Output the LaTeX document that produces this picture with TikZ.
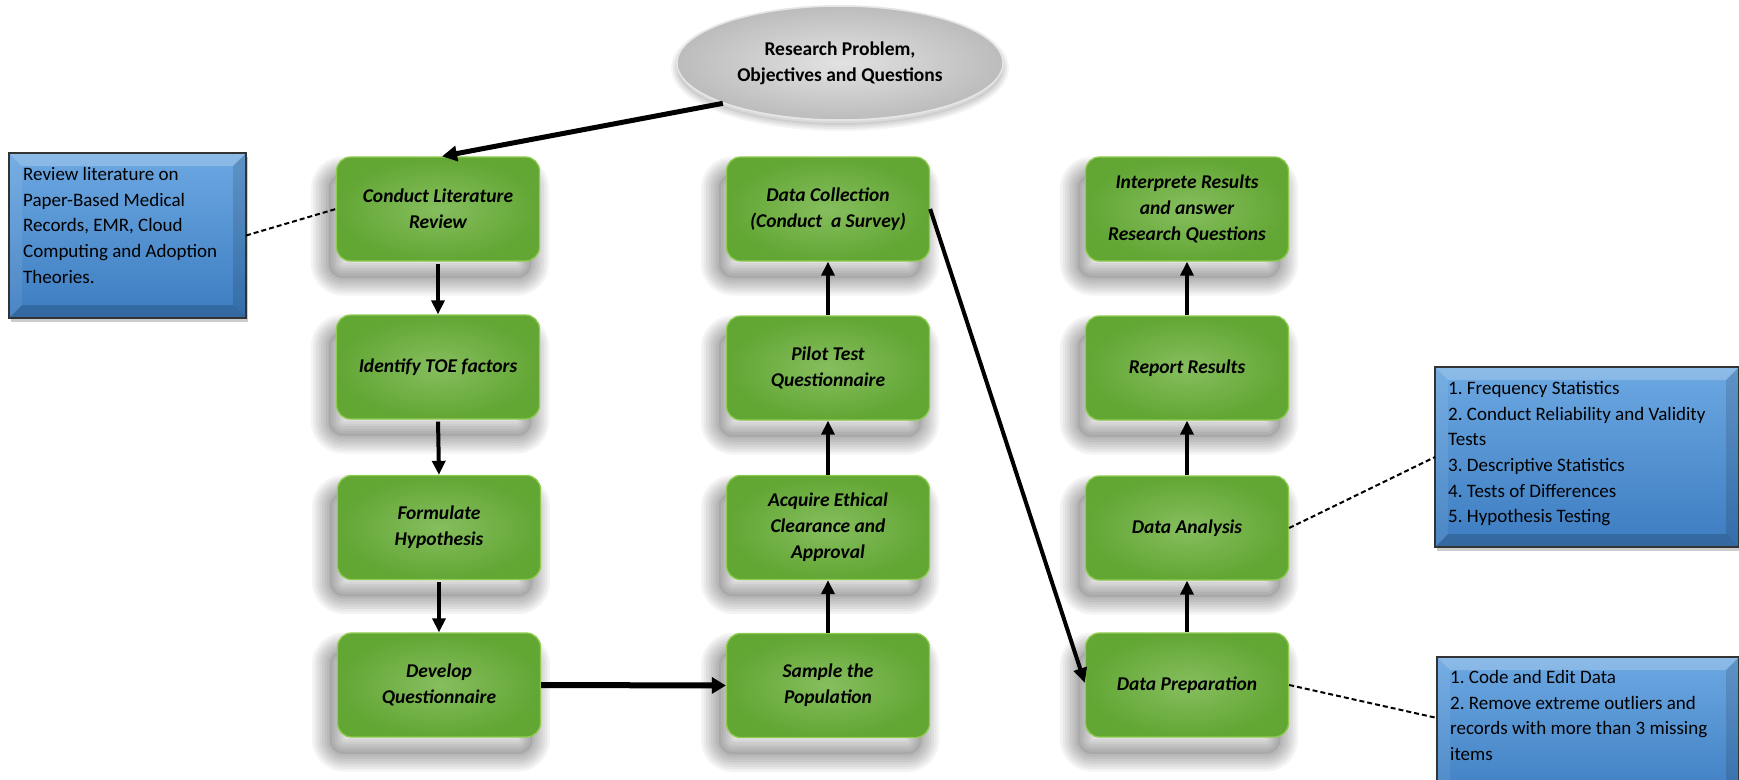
\documentclass[tikz,border=0pt]{standalone}
\usepackage{fontspec}
\setmainfont{Carlito}
\frenchspacing
\usetikzlibrary{arrows.meta,shapes.geometric,calc}
\definecolor{gC}{RGB}{134,190,94}
\definecolor{gO}{RGB}{98,166,52}
\definecolor{gE}{RGB}{142,204,78}
\definecolor{bT}{RGB}{108,168,226}
\definecolor{bB}{RGB}{60,124,192}
\definecolor{eC}{RGB}{226,226,226}
\definecolor{eO}{RGB}{188,188,188}
\newcommand\bluebevel[1]{%
 \fill[white,opacity=.22] (#1.north west) -- (#1.north east) -- ($(#1.north east)+(-13,13)$) -- ($(#1.north west)+(13,13)$) -- cycle;
 \fill[white,opacity=.08] (#1.north west) -- ($(#1.north west)+(13,13)$) -- ($(#1.south west)+(13,-13)$) -- (#1.south west) -- cycle;
 \fill[black,opacity=.12] (#1.north east) -- ($(#1.north east)+(-13,13)$) -- ($(#1.south east)+(-13,-13)$) -- (#1.south east) -- cycle;
 \fill[black,opacity=.16] (#1.south west) -- ($(#1.south west)+(13,-13)$) -- ($(#1.south east)+(-13,-13)$) -- (#1.south east) -- cycle;
 \draw[line width=1.6pt,black!80] (#1.north west) rectangle (#1.south east);
}
\begin{document}
\begin{tikzpicture}[x=1pt,y=-1pt,
  sh/.style n args={3}{preaction={draw=black, line join=round, line width=#3, opacity=.045, transform canvas={xshift=#1,yshift=#2}}},
  softshadow/.style n args={2}{
    preaction={fill=black, opacity=.08, transform canvas={xshift=#1,yshift=#2}},
    sh={#1}{#2}{5pt}, sh={#1}{#2}{10pt}, sh={#1}{#2}{15pt}, sh={#1}{#2}{20pt},
    sh={#1}{#2}{25pt}, sh={#1}{#2}{30pt}, sh={#1}{#2}{35pt}},
  gbox/.style={rectangle, rounded corners=14pt, minimum width=203pt, minimum height=104pt,
    inner sep=2pt, softshadow={-8pt}{-17pt}, inner color=gC, outer color=gO, draw=gE, line width=1.3pt, align=center,
    font=\fontsize{19.5}{26}\selectfont\bfseries\itshape},
  bbox/.style={rectangle, outer sep=0pt, inner sep=0pt,
    preaction={fill=black, opacity=.2, transform canvas={xshift=2pt,yshift=-4pt}},
    top color=bT, bottom color=bB},
  btext/.style={anchor=north west, inner sep=0pt, align=left, font=\fontsize{19}{25.7}\selectfont},
  arr/.style={line width=4pt, -{Triangle[length=14pt,width=13pt]}},
  dashline/.style={line width=2pt, dash pattern=on 5pt off 3pt}
]
\fill[white] (0,0) rectangle (1739,779);
\useasboundingbox (0,0) rectangle (1739,779);

% ellipse
\node[ellipse, minimum width=326pt, minimum height=114pt, inner sep=0pt,
  preaction={fill=black, opacity=.06, transform canvas={yshift=-5pt}},
  preaction={draw=black, line width=4pt, opacity=.05, transform canvas={yshift=-5pt}},
  preaction={draw=black, line width=8pt, opacity=.05, transform canvas={yshift=-5pt}},
  preaction={draw=black, line width=12pt, opacity=.04, transform canvas={yshift=-5pt}},
  inner color=eC, outer color=eO, draw=white!80!gray, line width=1.5pt, align=center,
  font=\fontsize{19.5}{26}\selectfont\bfseries]
  (rp) at (840,63) {Research Problem,\\Objectives and Questions};

% column 1
\node[gbox] (clr) at (438,209) {Conduct Literature\\Review};
\node[gbox] (toe) at (438,367) {Identify TOE factors};
\node[gbox] (fh) at (439,527.5) {Formulate\\Hypothesis};
\node[gbox] (dq) at (439,685) {Develop\\Questionnaire};
% column 2
\node[gbox] (dc) at (828,209) {Data Collection\\(Conduct\ \ a Survey)};
\node[gbox] (pt) at (828,368) {Pilot Test\\Questionnaire};
\node[gbox] (ae) at (828,527.5) {Acquire Ethical\\Clearance and\\Approval};
\node[gbox] (sp) at (828,685.5) {Sample the\\Population};
% column 3
\node[gbox] (ir) at (1187,209) {Interprete Results\\and answer\\Research Questions};
\node[gbox] (rr) at (1187,368) {Report Results};
\node[gbox] (da) at (1187,528) {Data Analysis};
\node[gbox] (dp) at (1187,685) {Data Preparation};

% blue boxes
\node[bbox, minimum width=237pt, minimum height=165pt] (lb) at (127.5,235.5) {};
\bluebevel{lb}
\node[btext] (lbt) at (23,167) {Review literature on\\Paper-Based Medical\\Records, EMR, Cloud\\Computing and Adoption\\Theories.};

\node[bbox, minimum width=304pt, minimum height=180pt] (bb1) at (1587,457) {};
\bluebevel{bb1}
\node[btext] (bb1t) at (1448,381) {1. Frequency Statistics\\2. Conduct Reliability and Validity\\Tests\\3. Descriptive Statistics\\4. Tests of Differences\\5. Hypothesis Testing};

\node[bbox, minimum width=302pt, minimum height=150pt] (bb2) at (1588,732) {};
\bluebevel{bb2}
\node[btext] (bb2t) at (1450,670) {1. Code and Edit Data\\2. Remove extreme outliers and\\records with more than 3 missing\\items};
\coordinate (bb2in) at (1437,718);

% arrows
\draw[line width=5pt, -{Triangle[length=15pt,width=15pt]}] (rp.199) -- ($(clr.north)+(4,0)$);
\draw[arr, shorten <=2pt] (clr.south) -- (toe.north);
\draw[arr, shorten <=2pt] (toe.south) -- (fh.north);
\draw[arr, shorten <=2pt] (fh.south) -- (dq.north);
\draw[line width=6pt, -{Triangle[length=14pt,width=16pt]}] (dq.east) -- (sp.west);
\draw[arr] (sp.north) -- (ae.south);
\draw[arr] (ae.north) -- (pt.south);
\draw[arr] (pt.north) -- (dc.south);
\draw[line width=4pt, -{Triangle[length=15pt,width=13pt]}] (dc.east) -- ($(dp.west)+(0,-2)$);
\draw[arr] (dp.north) -- (da.south);
\draw[arr] (da.north) -- (rr.south);
\draw[arr] (rr.north) -- (ir.south);

% dashed connectors
\draw[dashline] (lb.east) -- (clr.west);
\draw[dashline] (da.east) -- (bb1.west);
\draw[dashline] (dp.east) -- (bb2in);
\end{tikzpicture}
\end{document}
